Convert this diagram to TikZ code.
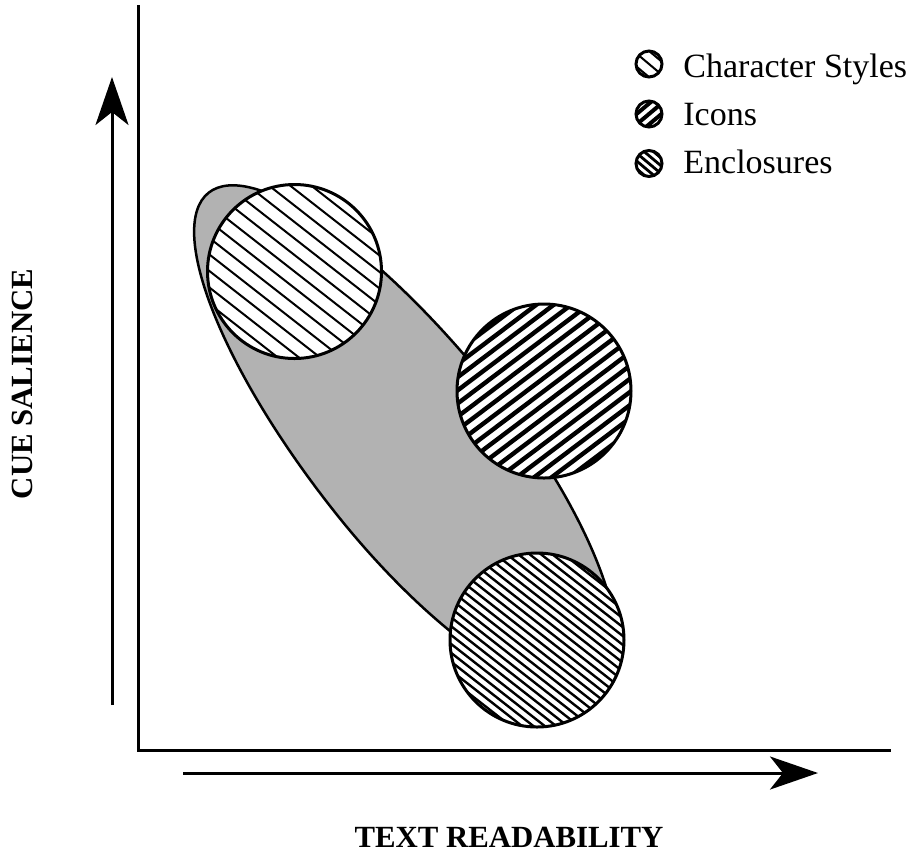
\documentclass[tikz,border=0pt]{standalone}
\usepackage{fontspec}
\setmainfont{Liberation Serif}
\usetikzlibrary{arrows.meta}

% Hatched disc: #1,#2 centre, #3 radius, #4 hatch angle, #5 spacing, #6 stroke width
\newcommand\hatchdisc[6]{%
  \begin{scope}
    \clip (#1,#2) circle [radius=#3];
    \fill[white] (#1,#2) circle [radius=#3];
    \begin{scope}[shift={(#1,#2)}, rotate=#4]
      \foreach \k in {-30,...,30}
        \draw[line width=#6] (-#3-5,\k*#5) -- (#3+5,\k*#5);
    \end{scope}
  \end{scope}
  \draw[discline] (#1,#2) circle [radius=#3];
}

\begin{document}
\begin{tikzpicture}[x=0.5pt,y=-0.5pt,
  axisline/.style={line width=1.5pt},
  cuearrow/.style={line width=1.5pt,-{Stealth[length=24pt,width=16.5pt,inset=6.5pt]}},
  discline/.style={line width=1.5pt},
  blob/.style={line width=1.25pt, fill=black!30},
  axislabel/.style={font=\bfseries\fontsize{15.4}{18}\selectfont, inner sep=0pt},
  legendtext/.style={font=\fontsize{17}{20}\selectfont, anchor=base west, inner sep=0pt},
]
\useasboundingbox (0,0) rectangle (922,859);

% axes
\coordinate (yaxtop) at (138,5);
\coordinate (origin) at (138,750);
\coordinate (xaxend) at (891,750);
\draw[axisline] (yaxtop) -- (origin) -- (xaxend);

% direction arrows
\coordinate (vstart) at (112,705);
\coordinate (vtip) at (112,77);
\coordinate (hstart) at (183,773);
\coordinate (htip) at (818,773);
\draw[cuearrow] (vstart) -- (vtip);
\draw[cuearrow] (hstart) -- (htip);

% axis labels
\node[axislabel, rotate=90] (ylabel) at (22,384) {CUE SALIENCE};
\node[axislabel] (xlabel) at (509,837.5) {TEXT READABILITY};

% overall region: an elongated oval running down to the right,
% built from two half ellipses sharing the minor axis
\coordinate (blobc) at (414,451);
\begin{scope}[shift={(blobc)}, rotate=-51.5]
  \draw[blob] (0,100)
    arc[start angle=90, end angle=270, x radius=330, y radius=100]
    arc[start angle=-90, end angle=90, x radius=300, y radius=100] -- cycle;
\end{scope}

% cue regions
\hatchdisc{294.5}{271.5}{87}{-38}{13}{1pt}
\hatchdisc{544}{391}{87}{37}{10.5}{2.2pt}
\hatchdisc{537}{640}{87}{-38}{7}{1.2pt}

% legend
\hatchdisc{649}{64}{13}{-40}{10}{1pt}
\hatchdisc{649}{114}{13}{40}{8}{2pt}
\hatchdisc{649}{163.5}{13}{-40}{6}{1.4pt}
\node[legendtext] (lgchar) at (683,77) {Character Styles};
\node[legendtext] (lgicon) at (683,125) {Icons};
\node[legendtext] (lgencl) at (683,173) {Enclosures};
\end{tikzpicture}
\end{document}
